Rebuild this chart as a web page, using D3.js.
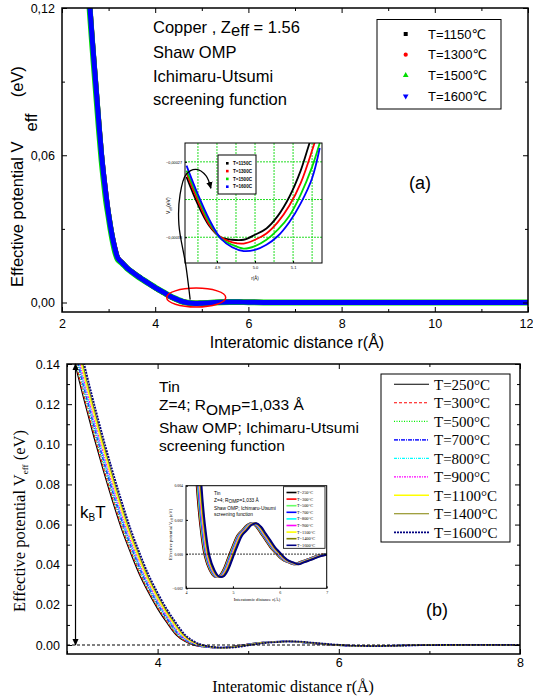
<!DOCTYPE html>
<html>
<head>
<meta charset="utf-8">
<script src="https://cdn.jsdelivr.net/npm/d3@7"></script>
<style>
  body { margin: 0; background: #fff; }
  svg { display: block; }
</style>
</head>
<body>
<svg id="chart" width="533" height="698"></svg>
<script>
// ---------------- Copper, panel (a) ----------------
const cuTemps = ['T=1150\u2103', 'T=1300\u2103', 'T=1500\u2103', 'T=1600\u2103'];
const cuColors = ['#000000', '#ff0000', '#00dd00', '#0000ff'];

const cuR = [2.55, 2.60, 2.65, 2.70, 2.75, 2.80, 2.85, 2.90, 2.95, 3.00, 3.05, 3.10, 3.15, 3.20,
  3.30, 3.40, 3.50, 3.60, 3.70, 3.80, 3.90, 4.00, 4.10, 4.20, 4.30, 4.40, 4.50, 4.60, 4.70,
  4.80, 4.90, 5.00, 5.20, 5.40, 5.60, 5.80, 6.00, 6.50, 7.00, 8.00, 10.00, 12.00];
const cuV1150 = [0.135, 0.120, 0.107, 0.095, 0.083, 0.071, 0.060, 0.051, 0.043, 0.036, 0.030, 0.025, 0.021, 0.018,
  0.0160, 0.0140, 0.0125, 0.0111, 0.0098, 0.0085, 0.0073, 0.0061, 0.0049, 0.0038, 0.0027, 0.0017, 0.0009, 0.0003, -0.0001,
  -0.0003, -0.0003, -0.0003, -0.0001, 0.0001, 0.0002, 0.0002, 0.0001, 0.0000, 0.0000, 0.0000, 0.0000, 0.0000];
const cuV1300 = [0.135, 0.120, 0.107, 0.095, 0.083, 0.071, 0.060, 0.051, 0.043, 0.036, 0.030, 0.025, 0.021, 0.018,
  0.0160, 0.0140, 0.0125, 0.0111, 0.0098, 0.0085, 0.0073, 0.0061, 0.0049, 0.0038, 0.0027, 0.0017, 0.0009, 0.0003, -0.0001,
  -0.0003, -0.0003, -0.0003, -0.0001, 0.0001, 0.0002, 0.0002, 0.0001, 0.0000, 0.0000, 0.0000, 0.0000, 0.0000];
const cuV1500 = [0.133, 0.118, 0.105, 0.093, 0.081, 0.069, 0.058, 0.049, 0.041, 0.035, 0.029, 0.024, 0.020, 0.0175,
  0.0158, 0.0139, 0.0124, 0.0110, 0.0097, 0.0085, 0.0073, 0.0061, 0.0050, 0.0039, 0.0028, 0.0018, 0.0010, 0.0003, -0.0001,
  -0.0003, -0.0004, -0.0003, -0.0001, 0.0001, 0.0002, 0.0002, 0.0001, 0.0000, 0.0000, 0.0000, 0.0000, 0.0000];
const cuV1600 = [0.135, 0.120, 0.107, 0.095, 0.083, 0.071, 0.060, 0.051, 0.043, 0.036, 0.030, 0.025, 0.021, 0.018,
  0.0160, 0.0140, 0.0125, 0.0111, 0.0098, 0.0085, 0.0073, 0.0061, 0.0050, 0.0039, 0.0028, 0.0018, 0.0010, 0.0003, -0.0001,
  -0.0003, -0.0004, -0.0003, -0.0001, 0.0001, 0.0002, 0.0002, 0.0001, 0.0000, 0.0000, 0.0000, 0.0000, 0.0000];

// zoom on the first minimum (inset of panel a)
const cuInsetR = [4.82, 4.85, 4.88, 4.91, 4.94, 4.97, 5.00, 5.03, 5.06, 5.09, 5.12, 5.15, 5.17];
const cuInsetV1150 = [-0.000282, -0.000304, -0.000321, -0.000330, -0.000332, -0.000332, -0.000328, -0.000323, -0.000313, -0.000298, -0.000277, -0.000249, -0.000235];
const cuInsetV1300 = [-0.000279, -0.000301, -0.000320, -0.000330, -0.000334, -0.000335, -0.000332, -0.000327, -0.000318, -0.000305, -0.000287, -0.000261, -0.000241];
const cuInsetV1500 = [-0.000277, -0.000298, -0.000318, -0.000331, -0.000336, -0.000339, -0.000337, -0.000332, -0.000324, -0.000313, -0.000296, -0.000274, -0.000255];
const cuInsetV1600 = [-0.000273, -0.000296, -0.000316, -0.000331, -0.000338, -0.000341, -0.000340, -0.000336, -0.000329, -0.000318, -0.000303, -0.000283, -0.000259];

const cuXTicks = [2, 4, 6, 8, 10, 12];
const cuXMinor = [3, 5, 7, 9, 11];
const cuYTicks = [0, 0.06, 0.12];
const cuYMinor = [0.03, 0.09];
const cuInsetXTicks = [4.9, 5.0, 5.1];
const cuInsetGridX = [4.85, 4.9, 4.95, 5.0, 5.05, 5.1, 5.15];
const cuInsetGridY = [-0.00027, -0.00030, -0.00033];
const cuInsetYLabels = [-0.00027, -0.00033];

// ---------------- Tin, panel (b) ----------------
const tinTemps = ['T=250\u00b0C', 'T=300\u00b0C', 'T=500\u00b0C', 'T=700\u00b0C', 'T=800\u00b0C',
  'T=900\u00b0C', 'T=1100\u00b0C', 'T=1400\u00b0C', 'T=1600\u00b0C'];
const tinV = [0.158, 0.138, 0.120, 0.103, 0.087, 0.072, 0.058, 0.046, 0.035, 0.026, 0.018, 0.0112, 0.0052, 0.0018,
  -0.0001, -0.0009, -0.0013, -0.0013, -0.0009, -0.0002, 0.0005, 0.0011, 0.0014, 0.0017, 0.0018, 0.0016, 0.0012,
  0.0008, 0.0004, 0.0001, -0.0002, -0.0004, -0.0005, -0.0006, -0.0005, -0.0004, -0.0003, -0.0001, 0.0000, 0.0001, 0.0000];
const tinR250 = [3.00, 3.10, 3.20, 3.30, 3.40, 3.50, 3.60, 3.70, 3.80, 3.90, 4.00, 4.10, 4.20, 4.30, 4.40, 4.50, 4.60, 4.70, 4.80, 4.90, 5.00,
  5.10, 5.20, 5.30, 5.40, 5.50, 5.60, 5.70, 5.80, 5.90, 6.00, 6.10, 6.20, 6.30, 6.40, 6.50, 6.60, 6.80, 7.00, 7.50, 8.00];
const tinR300 = [3.01, 3.11, 3.21, 3.31, 3.41, 3.51, 3.61, 3.71, 3.81, 3.91, 4.01, 4.11, 4.21, 4.31, 4.41, 4.51, 4.61, 4.71, 4.81, 4.91, 5.01,
  5.11, 5.21, 5.31, 5.41, 5.51, 5.61, 5.71, 5.81, 5.91, 6.01, 6.11, 6.21, 6.31, 6.41, 6.51, 6.61, 6.81, 7.01, 7.51, 8.01];
const tinR500 = [3.02, 3.12, 3.22, 3.32, 3.42, 3.52, 3.62, 3.72, 3.82, 3.92, 4.02, 4.12, 4.22, 4.32, 4.42, 4.52, 4.62, 4.72, 4.82, 4.92, 5.02,
  5.12, 5.22, 5.32, 5.42, 5.52, 5.62, 5.72, 5.82, 5.92, 6.02, 6.12, 6.22, 6.32, 6.42, 6.52, 6.62, 6.82, 7.02, 7.52, 8.02];
const tinR700 = [3.035, 3.135, 3.235, 3.335, 3.435, 3.535, 3.635, 3.735, 3.835, 3.935, 4.035, 4.135, 4.235, 4.335, 4.435, 4.535, 4.635, 4.735, 4.835, 4.935, 5.035,
  5.135, 5.235, 5.335, 5.435, 5.535, 5.635, 5.735, 5.835, 5.935, 6.035, 6.135, 6.235, 6.335, 6.435, 6.535, 6.635, 6.835, 7.035, 7.535, 8.035];
const tinR800 = [3.045, 3.145, 3.245, 3.345, 3.445, 3.545, 3.645, 3.745, 3.845, 3.945, 4.045, 4.145, 4.245, 4.345, 4.445, 4.545, 4.645, 4.745, 4.845, 4.945, 5.045,
  5.145, 5.245, 5.345, 5.445, 5.545, 5.645, 5.745, 5.845, 5.945, 6.045, 6.145, 6.245, 6.345, 6.445, 6.545, 6.645, 6.845, 7.045, 7.545, 8.045];
const tinR900 = [3.055, 3.155, 3.255, 3.355, 3.455, 3.555, 3.655, 3.755, 3.855, 3.955, 4.055, 4.155, 4.255, 4.355, 4.455, 4.555, 4.655, 4.755, 4.855, 4.955, 5.055,
  5.155, 5.255, 5.355, 5.455, 5.555, 5.655, 5.755, 5.855, 5.955, 6.055, 6.155, 6.255, 6.355, 6.455, 6.555, 6.655, 6.855, 7.055, 7.555, 8.055];
const tinR1100 = [3.07, 3.17, 3.27, 3.37, 3.47, 3.57, 3.67, 3.77, 3.87, 3.97, 4.07, 4.17, 4.27, 4.37, 4.47, 4.57, 4.67, 4.77, 4.87, 4.97, 5.07,
  5.17, 5.27, 5.37, 5.47, 5.57, 5.67, 5.77, 5.87, 5.97, 6.07, 6.17, 6.27, 6.37, 6.47, 6.57, 6.67, 6.87, 7.07, 7.57, 8.07];
const tinR1400 = [3.085, 3.185, 3.285, 3.385, 3.485, 3.585, 3.685, 3.785, 3.885, 3.985, 4.085, 4.185, 4.285, 4.385, 4.485, 4.585, 4.685, 4.785, 4.885, 4.985, 5.085,
  5.185, 5.285, 5.385, 5.485, 5.585, 5.685, 5.785, 5.885, 5.985, 6.085, 6.185, 6.285, 6.385, 6.485, 6.585, 6.685, 6.885, 7.085, 7.585, 8.085];
const tinR1600 = [3.10, 3.20, 3.30, 3.40, 3.50, 3.60, 3.70, 3.80, 3.90, 4.00, 4.10, 4.20, 4.30, 4.40, 4.50, 4.60, 4.70, 4.80, 4.90, 5.00, 5.10,
  5.20, 5.30, 5.40, 5.50, 5.60, 5.70, 5.80, 5.90, 6.00, 6.10, 6.20, 6.30, 6.40, 6.50, 6.60, 6.70, 6.90, 7.10, 7.60, 8.10];
const tinR = [tinR250, tinR300, tinR500, tinR700, tinR800, tinR900, tinR1100, tinR1400, tinR1600];

const tinXTicks = [4, 6, 8];
const tinXMinor = [3, 5, 7];
const tinYTicks = [0, 0.02, 0.04, 0.06, 0.08, 0.10, 0.12, 0.14];
const tinYMinor = [0.01, 0.03, 0.05, 0.07, 0.09, 0.11, 0.13];
const tinInsetXTicks = [4, 5, 6, 7];
const tinInsetYTicks = [-0.002, 0, 0.002, 0.004];

// line styles for the tin curves
const tinStyles = [
  { color: '#000000', dash: null, w: 1.1 },
  { color: '#ff0000', dash: '3,2', w: 1.1 },
  { color: '#00ee00', dash: '1,1.5', w: 1.2 },
  { color: '#3030ff', dash: '4,1,1,1', w: 1.8 },
  { color: '#00ffff', dash: '3,1,1,1,1,1', w: 1.2 },
  { color: '#ff00ff', dash: '2,1,1,1', w: 1.2 },
  { color: '#ffff00', dash: null, w: 1.4 },
  { color: '#808000', dash: null, w: 1.1 },
  { color: '#000080', dash: '2,1', w: 1.8 }
];
const tinInsetColors = ['#000000', '#ff0000', '#66ff66', '#0000ff', '#00ffff', '#ff00ff', '#ffff00', '#808000', '#000080'];

const SANS = "Arial, 'Liberation Sans', 'DejaVu Sans', sans-serif";
const SERIF = "'Times New Roman', 'Liberation Serif', 'DejaVu Serif', serif";

const svg = d3.select('#chart');
const defs = svg.append('defs');
defs.append('marker').attr('id', 'arrow')
  .attr('viewBox', '0 0 10 10').attr('refX', 9).attr('refY', 5)
  .attr('markerWidth', 7).attr('markerHeight', 7).attr('markerUnits', 'userSpaceOnUse')
  .attr('orient', 'auto-start-reverse')
  .append('path').attr('d', 'M0,0.5L10,5L0,9.5z').attr('fill', '#000');

function clip(id, x, y, w, h) {
  defs.append('clipPath').attr('id', id).append('rect')
    .attr('x', x).attr('y', y).attr('width', w).attr('height', h);
  return `url(#${id})`;
}

// ticks pointing into the frame; labels optional
function tickAxis(g, axisFn, pos, scale, values, size, fmt, pad, font, fs) {
  const horiz = axisFn === d3.axisBottom || axisFn === d3.axisTop;
  const a = g.append('g')
    .attr('transform', horiz ? `translate(0,${pos})` : `translate(${pos},0)`)
    .call(axisFn(scale).tickValues(values).tickSizeInner(-size).tickSizeOuter(0)
      .tickPadding(pad || 3).tickFormat(fmt || (() => '')));
  a.select('.domain').remove();
  a.attr('font-family', font || SANS).attr('font-size', fs || 10);
  return a;
}

function framedAxes(x, y, f, o) {
  const g = svg.append('g');
  const xa = tickAxis(g, d3.axisBottom, f.b, x, o.xMajor, o.major, o.xFmt, o.xPad, o.font, o.fs);
  tickAxis(g, d3.axisBottom, f.b, x, o.xMinor, o.minor);
  tickAxis(g, d3.axisTop, f.t, x, o.xMajor, o.major);
  tickAxis(g, d3.axisTop, f.t, x, o.xMinor, o.minor);
  tickAxis(g, d3.axisLeft, f.l, y, o.yMajor, o.major, o.yFmt, o.yPad, o.font, o.fs);
  tickAxis(g, d3.axisLeft, f.l, y, o.yMinor, o.minor);
  tickAxis(g, d3.axisRight, f.r, y, o.yMajor, o.major);
  tickAxis(g, d3.axisRight, f.r, y, o.yMinor, o.minor);
  g.append('rect').attr('x', f.l).attr('y', f.t).attr('width', f.r - f.l).attr('height', f.b - f.t)
    .attr('fill', 'none').attr('stroke', '#000').attr('stroke-width', o.frame || 1.5);
  return xa;
}

// =============== panel (a) ===============
const fa = { l: 62, r: 528, t: 8, b: 312 };
const xA = d3.scaleLinear().domain([2, 12]).range([fa.l, fa.r]);
const yA = d3.scaleLinear().domain([0, 0.12]).range([302.5, fa.t]);
const commaFmt = d => d3.format('.2f')(d).replace('.', ',');

const clipA = clip('clipA', fa.l, fa.t, fa.r - fa.l, fa.b - fa.t);
const lineA = d3.line().x(d => xA(d[0])).y(d => yA(d[1])).curve(d3.curveCatmullRom);
const cuSeries = [cuV1150, cuV1300, cuV1500, cuV1600];
const cuWidths = [5, 5, 6, 5];
svg.append('g').attr('clip-path', clipA)
  .selectAll('path').data(cuSeries).join('path')
  .attr('d', v => lineA(cuR.map((r, i) => [r, v[i]])))
  .attr('fill', 'none')
  .attr('stroke', (v, i) => cuColors[i])
  .attr('stroke-width', (v, i) => cuWidths[i])
  .attr('stroke-linejoin', 'round');

const xAxisA = framedAxes(xA, yA, fa, {
  xMajor: cuXTicks, xMinor: cuXMinor, yMajor: cuYTicks, yMinor: cuYMinor,
  major: 5, minor: 3, xPad: 7, yPad: 7, fs: 12.5,
  xFmt: d3.format('d'), yFmt: commaFmt
});
// keep the last label ("12") inside the page
xAxisA.selectAll('.tick text').filter(d => d === 12).attr('text-anchor', 'end').attr('x', 5);

svg.append('text').attr('x', 297).attr('y', 348).attr('text-anchor', 'middle')
  .attr('font-family', SANS).attr('font-size', 16).text('Interatomic distance r(\u00c5)');

const yTitleA = svg.append('text').attr('transform', 'translate(23,287) rotate(-90)')
  .attr('font-family', SANS).attr('font-size', 16.5);
yTitleA.append('tspan').text('Effective potential V');
yTitleA.append('tspan').attr('dx', 11).attr('dy', 14).text('eff');
yTitleA.append('tspan').attr('dx', 16).attr('dy', -14).text('(eV)');

const noteA = svg.append('g').attr('font-family', SANS).attr('font-size', 16.5);
const t1 = noteA.append('text').attr('x', 153).attr('y', 33);
t1.append('tspan').text('Copper , Z');
t1.append('tspan').attr('dy', 3).text('eff');
t1.append('tspan').attr('dy', -3).text(' = 1.56');
noteA.append('text').attr('x', 153).attr('y', 58).text('Shaw OMP');
noteA.append('text').attr('x', 153).attr('y', 82).text('Ichimaru-Utsumi');
noteA.append('text').attr('x', 153).attr('y', 105).text('screening function');

svg.append('text').attr('x', 420).attr('y', 189).attr('text-anchor', 'middle')
  .attr('font-family', SANS).attr('font-size', 18).text('(a)');

// legend (a)
const legA = svg.append('g');
legA.append('rect').attr('x', 377).attr('y', 19.5).attr('width', 124).attr('height', 89.5)
  .attr('fill', '#fff').attr('stroke', '#000').attr('stroke-width', 1);
const cuSymbols = [d3.symbolSquare, d3.symbolCircle, d3.symbolTriangle, d3.symbolTriangle];
cuTemps.forEach((t, i) => {
  const yy = 34 + i * 20.7;
  legA.append('path').attr('d', d3.symbol(cuSymbols[i], i === 0 ? 16 : 14)())
    .attr('transform', `translate(405.7,${yy}) rotate(${i === 3 ? 180 : 0})`)
    .attr('fill', cuColors[i]);
  legA.append('text').attr('x', 428).attr('y', yy).attr('dy', '0.35em')
    .attr('font-family', SANS).attr('font-size', 13).text(t);
});

// ellipse marking the minimum
svg.append('ellipse').attr('cx', xA(4.88)).attr('cy', yA(0.002)).attr('rx', 29.5).attr('ry', 9.5)
  .attr('fill', 'none').attr('stroke', '#ff0000').attr('stroke-width', 1.5);

// inset (a)
const fi = { l: 185, r: 322, t: 143, b: 263 };
const xI = d3.scaleLinear().domain([4.816, 5.176]).range([fi.l, fi.r]);
const yI = d3.scaleLinear().domain([-0.0003505, -0.000255]).range([fi.b, fi.t]);
svg.append('rect').attr('x', fi.l).attr('y', fi.t).attr('width', fi.r - fi.l).attr('height', fi.b - fi.t)
  .attr('fill', '#fff');
const gridI = svg.append('g').attr('stroke', '#22dd22').attr('stroke-width', 1).attr('stroke-dasharray', '2,1');
gridI.selectAll('.gx').data(cuInsetGridX).join('line')
  .attr('x1', d => xI(d)).attr('x2', d => xI(d)).attr('y1', fi.t).attr('y2', fi.b);
gridI.selectAll('.gy').data(cuInsetGridY).join('line')
  .attr('y1', d => yI(d)).attr('y2', d => yI(d)).attr('x1', fi.l).attr('x2', fi.r);

const clipI = clip('clipI', fi.l, fi.t, fi.r - fi.l, fi.b - fi.t);
const lineI = d3.line().x(d => xI(d[0])).y(d => yI(d[1])).curve(d3.curveCatmullRom);
svg.append('g').attr('clip-path', clipI)
  .selectAll('path').data([cuInsetV1150, cuInsetV1300, cuInsetV1500, cuInsetV1600]).join('path')
  .attr('d', v => lineI(cuInsetR.map((r, i) => [r, v[i]])))
  .attr('fill', 'none').attr('stroke', (v, i) => cuColors[i]).attr('stroke-width', 1.8);

const axI = svg.append('g');
tickAxis(axI, d3.axisBottom, fi.b, xI, cuInsetXTicks, 2, d3.format('.1f'), 3, SANS, 4);
tickAxis(axI, d3.axisLeft, fi.l, yI, cuInsetYLabels, 2, d => d3.format('.5f')(d).replace('.', ','), 3, SANS, 3.8);
axI.append('rect').attr('x', fi.l).attr('y', fi.t).attr('width', fi.r - fi.l).attr('height', fi.b - fi.t)
  .attr('fill', 'none').attr('stroke', '#000').attr('stroke-width', 1);
axI.append('text').attr('x', 255).attr('y', 279.5).attr('text-anchor', 'middle')
  .attr('font-family', SANS).attr('font-size', 4.5).text('r(\u00c5)');
const yTitleI = axI.append('text').attr('transform', 'translate(170,214) rotate(-90)')
  .attr('font-family', SANS).attr('font-size', 5);
yTitleI.append('tspan').text('V');
yTitleI.append('tspan').attr('dy', 1.5).attr('font-size', 3.5).text('eff');
yTitleI.append('tspan').attr('dy', -1.5).text('(eV)');

const legI = svg.append('g');
legI.append('rect').attr('x', 218).attr('y', 155).attr('width', 38).attr('height', 39)
  .attr('fill', '#fff').attr('stroke', '#000').attr('stroke-width', 1);
cuTemps.forEach((t, i) => {
  const yy = 163.3 + i * 7.8;
  legI.append('rect').attr('x', 226).attr('y', yy - 1.3).attr('width', 2.6).attr('height', 2.6)
    .attr('fill', cuColors[i]);
  legI.append('text').attr('x', 233).attr('y', yy).attr('dy', '0.35em')
    .attr('font-family', SANS).attr('font-size', 4.6).attr('font-weight', 'bold')
    .text(t.replace('\u2103', 'C'));
});

// arrow from the ellipse to the inset
const arrowPts = [[4.818, -0.000352], [4.800, -0.000320], [4.803, -0.000296],
  [4.819, -0.000280], [4.845, -0.000276], [4.871, -0.000281], [4.884, -0.000291]];
const arrowPath = [[xA(4.75), yA(0.0012)]].concat(arrowPts.map(p => [xI(p[0]), yI(p[1])]));
svg.append('path').attr('d', d3.line().curve(d3.curveCatmullRom)(arrowPath))
  .attr('fill', 'none').attr('stroke', '#000').attr('stroke-width', 1.3)
  .attr('marker-end', 'url(#arrow)');

// =============== panel (b) ===============
const fb = { l: 67, r: 520, t: 364, b: 654 };
const xB = d3.scaleLinear().domain([3, 8]).range([fb.l, fb.r]);
const yB = d3.scaleLinear().domain([0, 0.14]).range([645, fb.t]);

const clipB = clip('clipB', fb.l, fb.t, fb.r - fb.l, fb.b - fb.t);
const lineB = d3.line().x(d => xB(d[0])).y(d => yB(d[1])).curve(d3.curveCatmullRom);
svg.append('g').attr('clip-path', clipB)
  .selectAll('path').data(tinR).join('path')
  .attr('d', r => lineB(r.map((x, i) => [x, tinV[i]])))
  .attr('fill', 'none')
  .attr('stroke', (r, i) => tinStyles[i].color)
  .attr('stroke-width', (r, i) => tinStyles[i].w)
  .attr('stroke-dasharray', (r, i) => tinStyles[i].dash);

svg.append('line').attr('x1', fb.l).attr('x2', fb.r).attr('y1', yB(0)).attr('y2', yB(0))
  .attr('stroke', '#000').attr('stroke-width', 1).attr('stroke-dasharray', '3,2');

framedAxes(xB, yB, fb, {
  xMajor: tinXTicks, xMinor: tinXMinor, yMajor: tinYTicks, yMinor: tinYMinor,
  major: 5, minor: 3, xPad: 4, yPad: 7, fs: 12.5,
  xFmt: d3.format('d'), yFmt: d3.format('.2f')
});

svg.append('text').attr('x', 293).attr('y', 692).attr('text-anchor', 'middle')
  .attr('font-family', SERIF).attr('font-size', 16).text('Interatomic distance r(\u00c5)');

const yTitleB = svg.append('text').attr('transform', 'translate(25,612) rotate(-90)')
  .attr('font-family', SERIF).attr('font-size', 16.5);
yTitleB.append('tspan').text('Effective potential V');
yTitleB.append('tspan').attr('dy', 3).attr('font-size', 9).text('eff');
yTitleB.append('tspan').attr('dy', -3).text(' (eV)');

const noteB = svg.append('g').attr('font-family', SANS).attr('font-size', 15.5);
noteB.append('text').attr('x', 159).attr('y', 392).text('Tin');
const zb = noteB.append('text').attr('x', 159).attr('y', 410);
zb.append('tspan').text('Z=4; R');
zb.append('tspan').attr('dy', 5).text('OMP');
zb.append('tspan').attr('dy', -5).text('=1,033 \u00c5');
noteB.append('text').attr('x', 159).attr('y', 433).text('Shaw OMP; Ichimaru-Utsumi');
noteB.append('text').attr('x', 159).attr('y', 451).text('screening function');

svg.append('text').attr('x', 437).attr('y', 616).attr('text-anchor', 'middle')
  .attr('font-family', SANS).attr('font-size', 18).text('(b)');

// kB T double arrow
svg.append('line').attr('x1', xB(3.094)).attr('x2', xB(3.094)).attr('y1', yB(0.14)).attr('y2', yB(0))
  .attr('stroke', '#000').attr('stroke-width', 1.2)
  .attr('marker-start', 'url(#arrow)').attr('marker-end', 'url(#arrow)');
const kbt = svg.append('text').attr('x', 80).attr('y', 518).attr('font-family', SANS).attr('font-size', 17);
kbt.append('tspan').text('k');
kbt.append('tspan').attr('dy', 3).attr('font-size', 10).text('B');
kbt.append('tspan').attr('dy', -3).text('T');

// legend (b)
const legB = svg.append('g');
legB.append('rect').attr('x', 381).attr('y', 374).attr('width', 129).attr('height', 168)
  .attr('fill', '#fff').attr('stroke', '#000').attr('stroke-width', 1);
tinTemps.forEach((t, i) => {
  const yy = 384.3 + i * 18.5;
  legB.append('line').attr('x1', 394).attr('x2', 429).attr('y1', yy).attr('y2', yy)
    .attr('stroke', tinStyles[i].color).attr('stroke-width', tinStyles[i].w)
    .attr('stroke-dasharray', tinStyles[i].dash);
  legB.append('text').attr('x', 434).attr('y', yy).attr('dy', '0.35em')
    .attr('font-family', SERIF).attr('font-size', 15).text(t);
});

// inset (b)
const fj = { l: 186, r: 326.7, t: 485.7, b: 588.3 };
const xJ = d3.scaleLinear().domain([4, 7]).range([fj.l, fj.r]);
const yJ = d3.scaleLinear().domain([-0.002, 0.004]).range([fj.b, fj.t]);
svg.append('rect').attr('x', fj.l).attr('y', fj.t).attr('width', fj.r - fj.l).attr('height', fj.b - fj.t)
  .attr('fill', '#fff');
const clipJ = clip('clipJ', fj.l, fj.t, fj.r - fj.l, fj.b - fj.t);
const lineJ = d3.line().x(d => xJ(d[0])).y(d => yJ(d[1])).curve(d3.curveCatmullRom);
svg.append('g').attr('clip-path', clipJ)
  .selectAll('path').data(tinR).join('path')
  .attr('d', r => lineJ(r.map((x, i) => [x, tinV[i]])))
  .attr('fill', 'none').attr('stroke', (r, i) => tinInsetColors[i]).attr('stroke-width', 2);
svg.append('line').attr('x1', fj.l).attr('x2', fj.r).attr('y1', yJ(0)).attr('y2', yJ(0))
  .attr('stroke', '#000').attr('stroke-width', 0.8).attr('stroke-dasharray', '2,1');

const axJ = svg.append('g');
tickAxis(axJ, d3.axisBottom, fj.b, xJ, tinInsetXTicks, 2, d3.format('d'), 3, SERIF, 4);
tickAxis(axJ, d3.axisLeft, fj.l, yJ, tinInsetYTicks, 2, d3.format('.3f'), 3, SERIF, 3.8);
axJ.append('rect').attr('x', fj.l).attr('y', fj.t).attr('width', fj.r - fj.l).attr('height', fj.b - fj.t)
  .attr('fill', 'none').attr('stroke', '#000').attr('stroke-width', 1);
axJ.append('text').attr('x', 257).attr('y', 601).attr('text-anchor', 'middle')
  .attr('font-family', SERIF).attr('font-size', 4.6).text('Interatomic distance r(\u00c5)');
const yTitleJ = axJ.append('text').attr('transform', 'translate(172,560) rotate(-90)')
  .attr('font-family', SERIF).attr('font-size', 4.6);
yTitleJ.append('tspan').text('Effective potential V');
yTitleJ.append('tspan').attr('dy', 1).attr('font-size', 3).text('eff');
yTitleJ.append('tspan').attr('dy', -1).text(' (eV)');

const noteJ = svg.append('g').attr('font-family', SANS).attr('font-size', 4.8);
noteJ.append('text').attr('x', 214).attr('y', 495).text('Tin');
const zj = noteJ.append('text').attr('x', 214).attr('y', 502);
zj.append('tspan').text('Z=4; R');
zj.append('tspan').attr('dy', 1.2).text('OMP');
zj.append('tspan').attr('dy', -1.2).text('=1,033 \u00c5');
noteJ.append('text').attr('x', 214).attr('y', 510).text('Shaw OMP; Ichimaru-Utsumi');
noteJ.append('text').attr('x', 214).attr('y', 515.5).text('screening function');

const legJ = svg.append('g');
legJ.append('rect').attr('x', 283.5).attr('y', 486.7).attr('width', 41.5).attr('height', 61.6)
  .attr('fill', '#fff').attr('stroke', '#000').attr('stroke-width', 0.8);
tinTemps.forEach((t, i) => {
  const yy = 492.5 + i * 6.6;
  legJ.append('line').attr('x1', 286.5).attr('x2', 296.5).attr('y1', yy).attr('y2', yy)
    .attr('stroke', tinInsetColors[i]).attr('stroke-width', 1.6);
  legJ.append('text').attr('x', 297).attr('y', yy).attr('dy', '0.35em')
    .attr('font-family', SERIF).attr('font-size', 4.3).text(t);
});
</script>
</body>
</html>
